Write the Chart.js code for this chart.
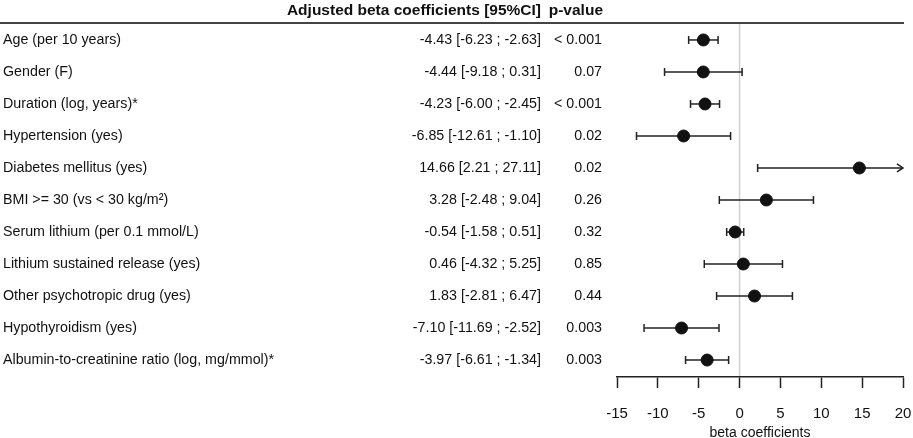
<!DOCTYPE html>
<html>
<head>
<meta charset="utf-8">
<script src="https://cdn.jsdelivr.net/npm/chart.js@4"></script>
<style>
  html, body { margin: 0; padding: 0; background: #fff; }
  #wrap { position: relative; width: 913px; height: 438px; }
</style>
</head>
<body>
<div id="wrap"><canvas id="forestChart"></canvas></div>
<script>
// Row labels, estimates, 95% CI and p-values
const variables = [
    'Age (per 10 years)',
    'Gender (F)',
    'Duration (log, years)*',
    'Hypertension (yes)',
    'Diabetes mellitus (yes)',
    'BMI >= 30 (vs < 30 kg/m\u00b2)',
    'Serum lithium (per 0.1 mmol/L)',
    'Lithium sustained release (yes)',
    'Other psychotropic drug (yes)',
    'Hypothyroidism (yes)',
    'Albumin-to-creatinine ratio (log, mg/mmol)*'
];
const estimates = [-4.43, -4.44, -4.23, -6.85, 14.66, 3.28, -0.54, 0.46, 1.83, -7.10, -3.97];
const lowerCI = [-6.23, -9.18, -6.00, -12.61, 2.21, -2.48, -1.58, -4.32, -2.81, -11.69, -6.61];
const upperCI = [-2.63, 0.31, -2.45, -1.10, 27.11, 9.04, 0.51, 5.25, 6.47, -2.52, -1.34];
const pValues = ['< 0.001', '0.07', '< 0.001', '0.02', '0.02', '0.26', '0.32', '0.85', '0.44', '0.003', '0.003'];
const xTicks = [-15, -10, -5, 0, 5, 10, 15, 20];

const FONT = '"Liberation Sans", Arial, sans-serif';
const X_MIN = -15, X_MAX = 20;
const SQUEEZE = 0.92; // the original uses a narrow face

// draw text squeezed horizontally, anchored at x
function narrowText(ctx, text, x, y) {
    ctx.save();
    ctx.translate(x, y);
    ctx.scale(SQUEEZE, 1);
    ctx.fillText(text, 0, 0);
    ctx.restore();
}

// Text columns on the left, drawn at each row's y position
const tablePlugin = {
    id: 'tableText',
    beforeDraw(chart) {
        const { ctx, scales: { y }, chartArea } = chart;
        ctx.save();
        // header line
        ctx.strokeStyle = '#444';
        ctx.lineWidth = 2;
        ctx.beginPath();
        ctx.moveTo(0, chartArea.top);
        ctx.lineTo(chartArea.right + 1, chartArea.top);
        ctx.stroke();

        ctx.fillStyle = '#111';
        ctx.textBaseline = 'middle';
        ctx.font = 'bold 15.5px ' + FONT;
        ctx.textAlign = 'right';
        ctx.fillText('Adjusted beta coefficients [95%CI]', 541, 11);
        ctx.fillText('p-value', 603, 11);

        ctx.font = '15.5px ' + FONT;
        variables.forEach((name, i) => {
            const py = y.getPixelForValue(i);
            ctx.textAlign = 'left';
            narrowText(ctx, name, 3, py);
            ctx.textAlign = 'right';
            const ci = estimates[i].toFixed(2) + ' [' + lowerCI[i].toFixed(2) + ' ; ' + upperCI[i].toFixed(2) + ']';
            narrowText(ctx, ci, 541, py);
            narrowText(ctx, pValues[i], 602, py);
        });

        // vertical reference line at 0
        const x0 = chart.scales.x.getPixelForValue(0);
        ctx.strokeStyle = '#cfcfcf';
        ctx.lineWidth = 1.5;
        ctx.beginPath();
        ctx.moveTo(x0, chartArea.top + 1);
        ctx.lineTo(x0, chartArea.bottom);
        ctx.stroke();
        ctx.restore();
    }
};

// Confidence interval whiskers with end caps, arrow when clipped
const errorBarPlugin = {
    id: 'errorBars',
    beforeDatasetsDraw(chart) {
        const { ctx, scales: { x, y } } = chart;
        ctx.save();
        ctx.strokeStyle = '#222';
        ctx.lineWidth = 1.5;
        estimates.forEach((_, i) => {
            const py = y.getPixelForValue(i);
            const lo = Math.max(lowerCI[i], X_MIN);
            const hi = Math.min(upperCI[i], X_MAX);
            const x1 = x.getPixelForValue(lo);
            const x2 = x.getPixelForValue(hi);
            ctx.beginPath();
            ctx.moveTo(x1, py);
            ctx.lineTo(x2, py);
            ctx.stroke();
            ctx.beginPath();
            if (lowerCI[i] >= X_MIN) {
                ctx.moveTo(x1, py - 4);
                ctx.lineTo(x1, py + 4);
            }
            if (upperCI[i] <= X_MAX) {
                ctx.moveTo(x2, py - 4);
                ctx.lineTo(x2, py + 4);
            } else {
                ctx.moveTo(x2 - 6, py - 4);
                ctx.lineTo(x2, py);
                ctx.lineTo(x2 - 6, py + 4);
            }
            ctx.stroke();
        });
        ctx.restore();
    }
};

const ctx = document.getElementById('forestChart').getContext('2d');

const forestChart = new Chart(ctx, {
    type: 'scatter',
    data: {
        datasets: [{
            data: estimates.map((v, i) => ({ x: v, y: i })),
            backgroundColor: '#111',
            borderColor: '#111',
            pointRadius: 6,
            pointHoverRadius: 6,
            pointStyle: 'circle'
        }]
    },
    options: {
        responsive: true,
        maintainAspectRatio: false,
        animation: false,
        layout: {
            padding: { left: 617, right: 10, top: 23, bottom: 0 }
        },
        plugins: {
            legend: { display: false },
            tooltip: { enabled: false }
        },
        scales: {
            x: {
                type: 'linear',
                min: X_MIN,
                max: X_MAX,
                afterBuildTicks: (scale) => {
                    scale.ticks = xTicks.map(v => ({ value: v }));
                },
                afterFit: (scale) => {
                    scale.height = 61;
                    scale.paddingLeft = 0;
                    scale.paddingRight = 0;
                },
                border: { display: true, color: '#222', width: 1.5 },
                grid: {
                    drawOnChartArea: false,
                    drawTicks: true,
                    tickLength: 11,
                    tickWidth: 1.5,
                    tickColor: '#222'
                },
                ticks: {
                    color: '#111',
                    padding: 17,
                    maxRotation: 0,
                    font: { family: FONT, size: 15 }
                },
                title: {
                    display: true,
                    text: 'beta coefficients',
                    color: '#111',
                    padding: { top: 0, bottom: -2 },
                    font: { family: FONT, size: 14, lineHeight: 1 }
                }
            },
            y: {
                type: 'linear',
                display: false,
                reverse: true,
                min: -0.53,
                max: 10.53
            }
        }
    },
    plugins: [tablePlugin, errorBarPlugin]
});
</script>
</body>
</html>
